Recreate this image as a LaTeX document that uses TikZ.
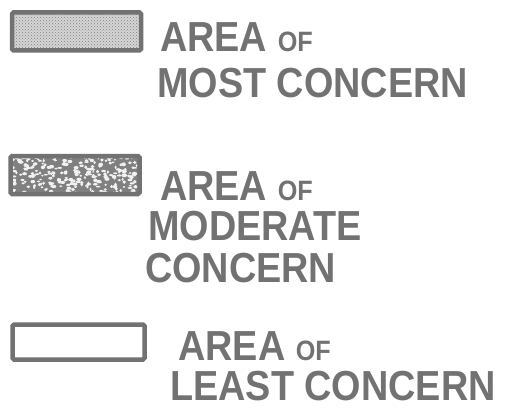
\documentclass[tikz,border=0pt]{standalone}
\usepackage{fontspec}
\newfontfamily\handfont[FakeStretch=0.9]{Liberation Sans}
\usetikzlibrary{calc}
\usetikzlibrary{patterns}
\definecolor{marker}{HTML}{727272}

\begin{document}
\begin{tikzpicture}[x=1pt, y=1pt,
    keybox/.style={draw=marker, line width=4.5pt, rounded corners=1.5pt,
        minimum width=129pt, minimum height=38pt, inner sep=0pt},
    legendtext/.style={anchor=base west, inner sep=0pt, text=marker,
        font=\handfont\bfseries\fontsize{42}{42}\selectfont}]

    % 画布范围
    \useasboundingbox (0, 0) rectangle (510, -409);

    % 定义关键坐标
    \coordinate (K1) at (76.5, -31.5);     % 最关注
    \coordinate (K2) at (75, -175);        % 中等关注
    \coordinate (K3) at (78.5, -342);      % 最少关注

    % 最关注：细点填充
    \node[keybox, preaction={fill=marker!30}, pattern=crosshatch dots,
        pattern color=marker!90] (most) at (K1) {};

    % 中等关注：粗糙斑点填充
    \begin{scope}
        \clip (K2) ++(-63, -18) rectangle ++(126, 36);
        \fill[marker!90] (K2) ++(-63, -18) rectangle ++(126, 36);
        \pgfmathsetseed{17}
        \foreach \i in {1,...,260} {
            \fill[white!90!marker] ($(K2) + (63*rand, 18*rand)$)
                ellipse ({1+1.6*rnd} and {0.8+1.2*rnd});
        }
    \end{scope}
    \node[keybox] (moderate) at (K2) {};

    % 最少关注：空框
    \node[keybox, minimum width=132pt, minimum height=35pt] (least) at (K3) {};

    % 文字
    \node[legendtext] (mostA) at (160, -52) {AREA {\fontsize{28}{28}\selectfont OF}};
    \node[legendtext] (mostB) at (157, -97) {MOST CONCERN};
    \node[legendtext] (modA) at (160, -200) {AREA {\fontsize{28}{28}\selectfont OF}};
    \node[legendtext] (modB) at (148, -240) {MODERATE};
    \node[legendtext] (modC) at (145, -282) {CONCERN};
    \node[legendtext] (leastA) at (178, -360) {AREA {\fontsize{28}{28}\selectfont OF}};
    \node[legendtext] (leastB) at (170, -400) {LEAST CONCERN};

\end{tikzpicture}
\end{document}
